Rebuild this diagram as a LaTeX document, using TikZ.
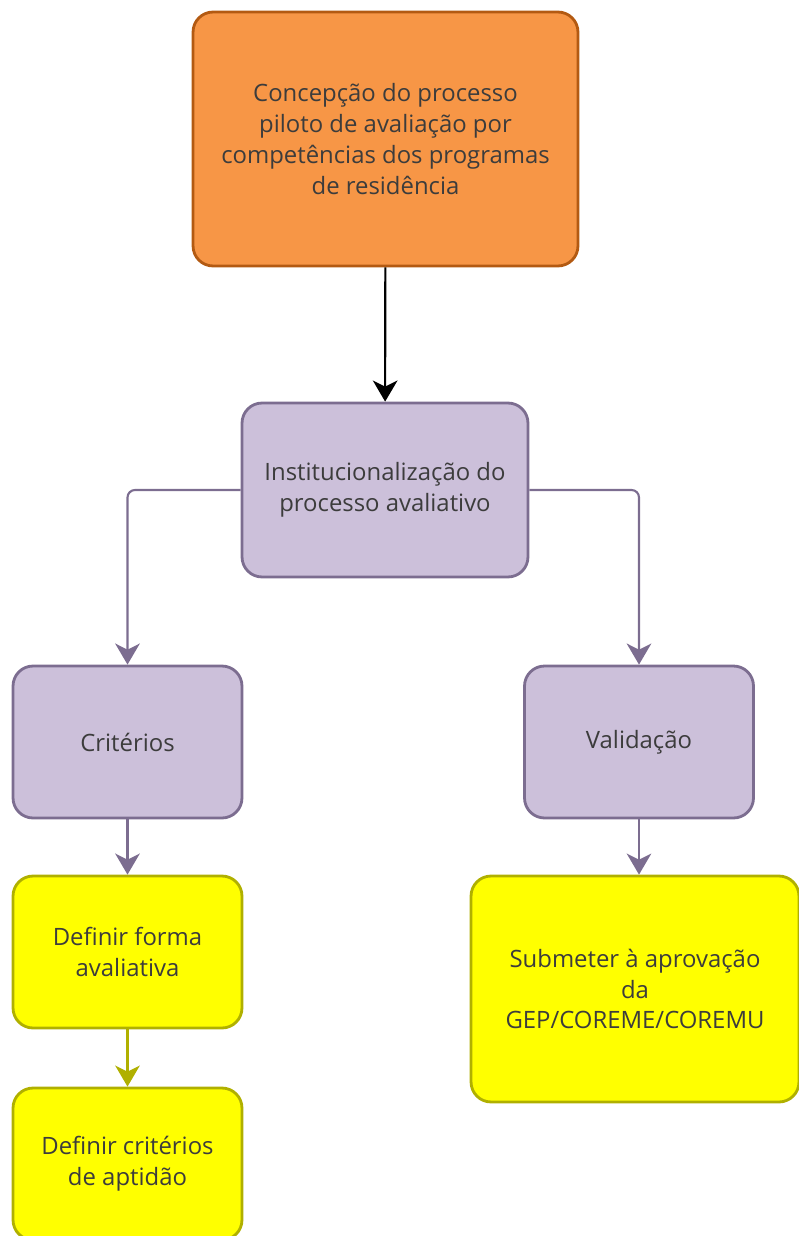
\documentclass[tikz,border=0pt]{standalone}
\usepackage{fontspec}
\setmainfont{Open Sans}
\usetikzlibrary{arrows.meta}

\definecolor{orangefill}{HTML}{F79646}
\definecolor{orangeline}{HTML}{B35A12}
\definecolor{lilacfill}{HTML}{CCC0DA}
\definecolor{lilacline}{HTML}{7C6D90}
\definecolor{yellowfill}{HTML}{FFFF00}
\definecolor{yellowline}{HTML}{B0B000}
\definecolor{textgray}{HTML}{3C3C3C}

\begin{document}
\begin{tikzpicture}[
		x=0.02cm, y=-0.02cm,
		box/.style={draw, line width=1.6pt, rounded corners=0.4cm, align=center,
			inner sep=0pt, text=textgray,
			font=\fontsize{13.6}{17.6}\selectfont},
		topbox/.style={box, fill=orangefill, draw=orangeline},
		lilacbox/.style={box, fill=lilacfill, draw=lilacline},
		yellowbox/.style={box, fill=yellowfill, draw=yellowline},
		flow/.style={line width=1.2pt, rounded corners=0.15cm,
			-{Stealth[length=12pt, width=14pt, inset=3.5pt]}},
	]
		\useasboundingbox (0,0) rectangle (798,1236);

		\node[topbox, minimum width=7.7cm, minimum height=5.08cm] (concepcao) at (385.5,139)
			{Concepção do processo\\piloto de avaliação por\\competências dos programas\\de residência};
		\node[lilacbox, minimum width=5.72cm, minimum height=3.48cm] (inst) at (385,490)
			{Institucionalização do\\processo avaliativo};
		\node[lilacbox, minimum width=4.58cm, minimum height=3.04cm] (criterios) at (127.5,742) {Critérios};
		\node[lilacbox, minimum width=4.58cm, minimum height=3.04cm] (validacao) at (639,742) {Validação};
		\node[yellowbox, minimum width=4.58cm, minimum height=3.04cm] (forma) at (127.5,952)
			{Definir forma\\avaliativa};
		\node[yellowbox, minimum width=4.58cm, minimum height=3.04cm] (aptidao) at (127.5,1164)
			{Definir critérios\\de aptidão};
		\node[yellowbox, minimum width=6.56cm, minimum height=4.52cm] (submeter) at (635,989)
			{Submeter à aprovação\\da\\GEP/COREME/COREMU};

		\draw[flow, draw=black, fill=black] (concepcao) -- (inst);
		\draw[flow, draw=lilacline] (inst.west) -| (criterios.north);
		\draw[flow, draw=lilacline] (inst.east) -| (validacao.north);
		\draw[flow, draw=lilacline] (criterios) -- (forma);
		\draw[flow, draw=lilacline] (validacao.south) -- (validacao.south |- submeter.north);
		\draw[flow, draw=yellowline] (forma) -- (aptidao);
	\end{tikzpicture}
\end{document}
